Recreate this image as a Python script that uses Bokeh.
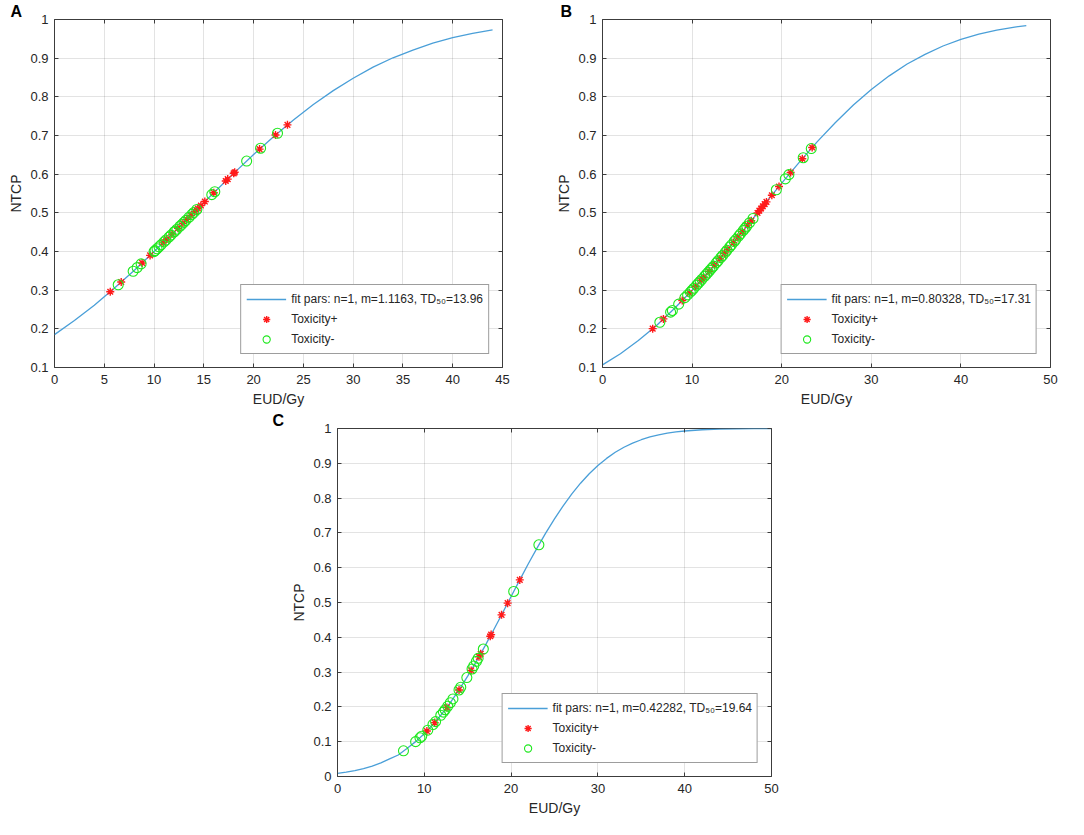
from bokeh.plotting import figure
from bokeh.models import (Range1d, FixedTicker, LinearAxis, CustomJSTickFormatter,
                          Legend, LegendItem, Title, Spacer)
from bokeh.layouts import column, row
from bokeh.embed import file_html
from bokeh.resources import INLINE

# ---------------- Panel A data ----------------
a_curve_eud = [0, 2, 4, 6, 8, 10, 12, 14, 16, 18, 20, 22, 24, 26, 28, 30, 32, 34, 36, 38, 40, 42, 44]
a_curve_ntcp = [0.185, 0.2215, 0.261, 0.305, 0.351, 0.400, 0.450, 0.501, 0.552, 0.602, 0.651, 0.697,
                0.740, 0.780, 0.816, 0.848, 0.877, 0.901, 0.921, 0.939, 0.953, 0.964, 0.973]
a_pos_eud = [5.6, 6.7, 8.8, 9.6, 10.9, 11.3, 11.8, 12.4, 12.9, 13.3, 13.7, 14.1, 14.4, 14.7, 15.1,
             16.0, 17.2, 17.4, 18.0, 18.1, 20.6, 22.2, 23.4]
a_pos_ntcp = [0.296, 0.321, 0.3704, 0.3899, 0.4222, 0.4323, 0.445, 0.4601, 0.4729, 0.4831, 0.4933,
              0.5036, 0.5112, 0.5189, 0.5292, 0.552, 0.5823, 0.5873, 0.6022, 0.6048, 0.6648, 0.7013, 0.7275]
a_neg_eud = [6.4, 7.9, 8.3, 8.7, 10.0, 10.1, 10.3, 10.5, 10.7, 11.0, 11.2, 11.5, 11.7, 12.0, 12.1,
             12.3, 12.6, 12.8, 13.0, 13.2, 13.5, 13.8, 14.0, 14.3, 15.8, 16.1, 19.3, 20.7, 22.4]
a_neg_ntcp = [0.3139, 0.3488, 0.3584, 0.3680, 0.3998, 0.4022, 0.4071, 0.4121, 0.4171, 0.4247, 0.4297,
              0.4373, 0.4424, 0.4500, 0.4525, 0.4576, 0.4652, 0.4703, 0.4754, 0.4805, 0.4882, 0.4959,
              0.5010, 0.5087, 0.5470, 0.5546, 0.6339, 0.6671, 0.7057]
a_label = "fit pars: n=1, m=1.1163, TD\u2085\u2080=13.96"

# ---------------- Panel B data ----------------
b_curve_eud = [0, 2, 4, 6, 8, 10, 12, 14, 16, 18, 20, 22, 24, 26, 28, 30, 32, 34, 36, 38, 40, 42, 44, 46, 47.3]
b_curve_ntcp = [0.1069, 0.1355, 0.1696, 0.2082, 0.2519, 0.2997, 0.3514, 0.4060, 0.4625, 0.5198, 0.5767,
                0.6319, 0.6847, 0.7338, 0.7787, 0.8191, 0.8543, 0.8849, 0.9098, 0.9315, 0.9484, 0.9620,
                0.9724, 0.9803, 0.9844]
b_pos_eud = [5.6, 6.8, 8.9, 9.7, 10.4, 11.0, 11.3, 11.9, 12.5, 13.1, 13.6, 14.0, 14.6, 15.1, 15.6,
             16.2, 16.6, 17.3, 17.5, 17.7, 17.9, 18.1, 18.3, 18.9, 19.7, 21.0, 22.3, 23.4]
b_pos_ntcp = [0.2005, 0.2257, 0.2734, 0.2925, 0.3100, 0.3256, 0.3333, 0.3488, 0.3651, 0.3814, 0.3951,
              0.4060, 0.4230, 0.4371, 0.4512, 0.4682, 0.4797, 0.4997, 0.5055, 0.5112, 0.5169, 0.5226,
              0.5283, 0.5454, 0.5682, 0.6043, 0.6398, 0.6689]
b_neg_eud = [6.4, 7.6, 7.8, 8.5, 9.2, 9.5, 9.8, 10.0, 10.2, 10.5, 10.7, 10.9, 11.1, 11.4, 11.6, 11.8,
             12.0, 12.2, 12.4, 12.7, 12.9, 13.2, 13.4, 13.7, 13.9, 14.2, 14.4, 14.7, 14.9, 15.2, 15.4,
             15.7, 15.9, 16.1, 16.4, 16.8, 19.4, 20.4, 20.8, 22.4, 23.3]
b_neg_ntcp = [0.2169, 0.2432, 0.2475, 0.2639, 0.2806, 0.2878, 0.2949, 0.2997, 0.3049, 0.3126, 0.3178,
              0.3230, 0.3282, 0.3359, 0.3411, 0.3463, 0.3514, 0.3569, 0.3623, 0.3705, 0.3760, 0.3842,
              0.3896, 0.3978, 0.4033, 0.4117, 0.4173, 0.4258, 0.4314, 0.4399, 0.4456, 0.4540, 0.4597,
              0.4654, 0.4740, 0.4854, 0.5596, 0.5877, 0.5988, 0.6425, 0.6662]
b_label = "fit pars: n=1, m=0.80328, TD\u2085\u2080=17.31"

# ---------------- Panel C data ----------------
c_curve_eud = [0, 1, 2, 3, 4, 5, 6, 7, 8, 9, 10, 11, 12, 13, 14, 15, 16, 17, 18, 19, 20, 21, 22, 23, 24,
               25, 26, 27, 28, 29, 30, 31, 32, 33, 34, 35, 36, 37, 38, 39, 40, 42, 44, 46, 48, 50]
c_curve_ntcp = [0.0090, 0.0125, 0.0169, 0.0226, 0.0299, 0.0391, 0.0505, 0.0618, 0.0806, 0.1002, 0.1231,
                0.1494, 0.1790, 0.2120, 0.2487, 0.2884, 0.3308, 0.3754, 0.4217, 0.4693, 0.5173, 0.5650,
                0.6119, 0.6571, 0.7001, 0.7404, 0.7778, 0.8121, 0.8428, 0.8699, 0.8936, 0.9141, 0.9316,
                0.9461, 0.9580, 0.9677, 0.9756, 0.9816, 0.9865, 0.9901, 0.9928, 0.9964, 0.9983, 0.9992,
                0.9997, 0.9999]
c_pos_eud = [10.3, 11.2, 12.6, 14.0, 15.4, 16.3, 16.5, 17.6, 17.7, 18.9, 19.6, 21.0]
c_pos_ntcp = [0.1306, 0.1549, 0.1986, 0.2487, 0.3049, 0.3438, 0.3528, 0.4031, 0.4077, 0.4645, 0.4981, 0.5650]
c_neg_eud = [7.6, 9.0, 9.5, 9.7, 10.4, 11.0, 11.3, 11.9, 12.2, 12.4, 12.7, 13.0, 13.3, 14.0, 14.2, 14.9,
             15.5, 15.7, 16.0, 16.2, 16.8, 20.3, 23.2]
c_neg_ntcp = [0.0738, 0.1002, 0.1112, 0.1157, 0.1331, 0.1494, 0.1577, 0.1759, 0.1851, 0.1919, 0.2020,
              0.2120, 0.2229, 0.2487, 0.2565, 0.2843, 0.3090, 0.3177, 0.3308, 0.3395, 0.3663, 0.5317, 0.6658]
c_label = "fit pars: n=1, m=0.42282, TD\u2085\u2080=19.64"

pos_label = "Toxicity+"
neg_label = "Toxicity-"
x_title = "EUD/Gy"
y_title = "NTCP"

FONT = "Liberation Sans"
INK = "#262626"
FMT = "return String(Number(tick.toFixed(2)));"


def panel(letter, xmax, xticks, ymin, yticks, ce, cn, pe, pn, ne, nn, label,
          width, height, bl, br, bb, letter_dx):
    p = figure(width=width, height=height, x_range=Range1d(0, xmax), y_range=Range1d(ymin, 1),
               output_backend="svg", toolbar_location=None,
               min_border_left=bl, min_border_right=br, min_border_top=0, min_border_bottom=bb)
    p.background_fill_color = "white"
    p.border_fill_color = "white"
    p.outline_line_color = "#3c3c3c"
    p.outline_line_width = 1

    p.title = Title(text=letter, align="left", offset=letter_dx, standoff=0,
                    text_font=FONT, text_font_size="16px", text_font_style="bold",
                    text_color="black")

    for ax, ticks in ((p.xaxis[0], xticks), (p.yaxis[0], yticks)):
        ax.ticker = FixedTicker(ticks=ticks)
        ax.formatter = CustomJSTickFormatter(code=FMT)
        ax.major_tick_in = 4
        ax.major_tick_out = 0
        ax.minor_tick_line_color = None
        ax.axis_line_color = None
        ax.major_tick_line_color = "#3c3c3c"
        ax.major_label_text_font = FONT
        ax.major_label_text_font_size = "13px"
        ax.major_label_text_color = INK
        ax.axis_label_text_font = FONT
        ax.axis_label_text_font_size = "14px"
        ax.axis_label_text_font_style = "normal"
        ax.axis_label_text_color = INK
    p.xaxis.axis_label = x_title
    p.yaxis.axis_label = y_title
    p.xaxis.major_label_standoff = 7
    p.xaxis.axis_label_standoff = 4
    p.yaxis.major_label_standoff = 6
    p.yaxis.axis_label_standoff = 3

    # box ticks on top and right (MATLAB style)
    top = LinearAxis(ticker=FixedTicker(ticks=xticks), formatter=CustomJSTickFormatter(code="return '';"),
                     major_tick_in=4, major_tick_out=0, minor_tick_line_color=None,
                     axis_line_color=None, major_tick_line_color="#3c3c3c", major_label_standoff=0)
    right = LinearAxis(ticker=FixedTicker(ticks=yticks), formatter=CustomJSTickFormatter(code="return '';"),
                       major_tick_in=4, major_tick_out=0, minor_tick_line_color=None,
                       axis_line_color=None, major_tick_line_color="#3c3c3c", major_label_standoff=0)
    p.add_layout(top, "above")
    p.add_layout(right, "right")

    p.grid.grid_line_color = INK
    p.grid.grid_line_alpha = 0.13
    p.grid.grid_line_width = 1

    l = p.line(ce, cn, line_color="#4a9fd8", line_width=1.3)
    r1 = p.scatter(pe, pn, marker="asterisk", size=8, line_color="#ff1a1a", line_width=1.4)
    r2 = p.scatter(ne, nn, marker="circle", size=10, fill_color=None, line_color="#1ee81e", line_width=1.1)

    legend = Legend(items=[LegendItem(label=label, renderers=[l]),
                           LegendItem(label=pos_label, renderers=[r1]),
                           LegendItem(label=neg_label, renderers=[r2])],
                    location="bottom_right", margin=13, padding=5, spacing=2,
                    glyph_width=40, glyph_height=18, label_height=18, label_standoff=5,
                    label_text_font=FONT, label_text_font_size="12px", label_text_color=INK,
                    border_line_color="#3c3c3c", border_line_width=1,
                    background_fill_color="white", background_fill_alpha=1)
    p.add_layout(legend)
    return p


H = 409
pA = panel("A", 45, [0, 5, 10, 15, 20, 25, 30, 35, 40, 45], 0.1,
           [0.1, 0.2, 0.3, 0.4, 0.5, 0.6, 0.7, 0.8, 0.9, 1.0],
           a_curve_eud, a_curve_ntcp, a_pos_eud, a_pos_ntcp, a_neg_eud, a_neg_ntcp, a_label,
           542, H, 44, 45, 42, -44)
pB = panel("B", 50, [0, 10, 20, 30, 40, 50], 0.1,
           [0.1, 0.2, 0.3, 0.4, 0.5, 0.6, 0.7, 0.8, 0.9, 1.0],
           b_curve_eud, b_curve_ntcp, b_pos_eud, b_pos_ntcp, b_neg_eud, b_neg_ntcp, b_label,
           520, H, 55, 17, 42, -42)
pC = panel("C", 50, [0, 10, 20, 30, 40, 50], 0.0,
           [0.0, 0.1, 0.2, 0.3, 0.4, 0.5, 0.6, 0.7, 0.8, 0.9, 1.0],
           c_curve_eud, c_curve_ntcp, c_pos_eud, c_pos_ntcp, c_neg_eud, c_neg_ntcp, c_label,
           521, H, 67, 20, 42, -65)

layout = column(row(Spacer(width=5, height=H), pA, pB),
                row(Spacer(width=270, height=H), pC))

open("out.html", "w").write(file_html(layout, INLINE))
